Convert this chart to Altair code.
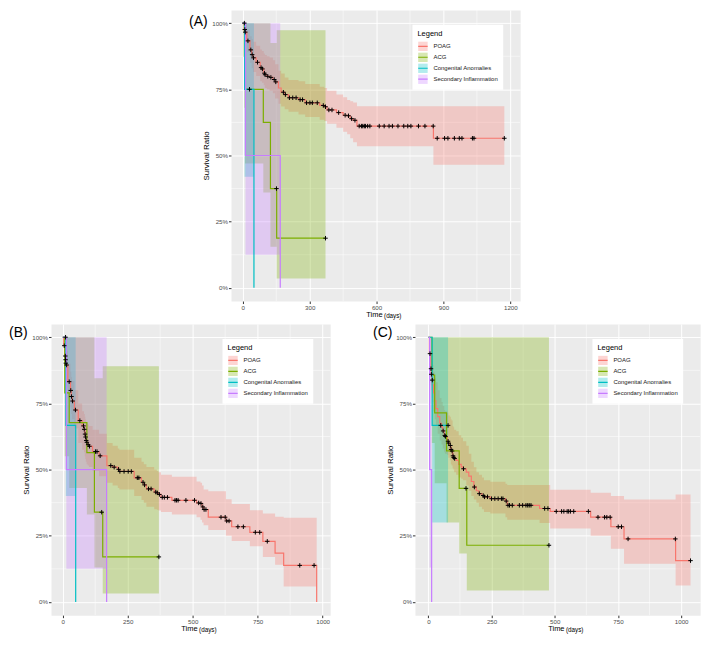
import altair as alt
import pandas as pd

FONT = "Liberation Sans"
GROUPS = ["POAG", "ACG", "Congenital Anomalies", "Secondary Inflammation"]
COLORS = ["#F8766D", "#7CAE00", "#00BFC4", "#C77CFF"]
Y_TICKS = [0, 0.25, 0.5, 0.75, 1.0]
Y_MINOR = [0.125, 0.375, 0.625, 0.875]

# ---------------- Panel A ----------------
A_X_TICKS = [0, 300, 600, 900, 1200]
A_X_MINOR = [150, 450, 750, 1050]

A_POAG_T = [0, 8, 10, 18, 32, 40, 46, 60, 78, 86, 94, 99, 108, 120, 135, 145, 160, 172, 188, 205,
            250, 280, 345, 366, 378, 420, 450, 468, 482, 495, 512, 855, 1173]
A_POAG_S = [1.0, .976, .966, .933, .899, .881, .869, .852, .832, .827, .811, .805, .799, .795, .787, .778,
            .755, .739, .730, .718, .711, .699, .689, .684, .672, .662, .652, .650, .639, .633, .611, .565, .565]
A_POAG_L = [.97, .95, .93, .89, .85, .83, .815, .80, .78, .775, .765, .755, .75, .745, .735, .715, .695,
            .685, .675, .665, .655, .645, .635, .63, .62, .605, .59, .58, .565, .55, .535, .465, .465]
A_POAG_U = [1.0, 1.0, .995, .975, .95, .94, .93, .915, .90, .895, .885, .88, .875, .87, .86, .845, .82,
            .81, .795, .785, .78, .77, .76, .755, .745, .73, .72, .71, .705, .70, .686, .686, .686]
A_POAG_XT = [7, 9, 11, 23, 36, 42, 48, 66, 82, 88, 97, 100, 112, 126, 141, 148, 182, 191, 209, 224,
             239, 257, 268, 286, 301, 312, 334, 361, 371, 386, 400, 430, 459, 474, 488, 503,
             522, 532, 538, 545, 550, 560, 570, 612, 634, 656, 671, 696, 722, 740, 754, 788, 817, 854,
             872, 905, 920, 949, 971, 983, 1030, 1037, 1173]
A_POAG_XS = [1.0, .976, .966, .933, .899, .881, .869, .852, .832, .827, .811, .805, .799, .795, .787, .778,
             .739, .730, .718, .718, .718, .711, .711, .699, .699, .699, .699, .689, .684, .672, .672,
             .662, .652, .650, .639, .633,
             .611, .611, .611, .611, .611, .611, .611, .611, .611, .611, .611, .611, .611, .611, .611,
             .611, .611, .611,
             .565, .565, .565, .565, .565, .565, .565, .565, .565]

A_ACG_T = [0, 7, 10, 92, 124, 152, 371]
A_ACG_S = [1.0, .875, .75, .625, .375, .1875, .1875]
A_ACG_L = [1.0, .68, .47, .36, .155, .035, .035]
A_ACG_U = [1.0, 1.0, 1.0, 1.0, .925, .973, .973]
A_ACG_XT = [30, 151, 371]
A_ACG_XS = [.75, .375, .1875]

A_CA_T = [0, 8, 50]
A_CA_S = [1.0, .75, 0.0]
A_CA_L = [1.0, .42, .42]
A_CA_U = [1.0, 1.0, 1.0]

A_SI_T = [0, 12, 168]
A_SI_S = [1.0, .5, 0.0]
A_SI_L = [1.0, .125, .125]
A_SI_U = [1.0, 1.0, 1.0]

# ---------------- Panel B ----------------
BC_X_TICKS = [0, 250, 500, 750, 1000]
BC_X_MINOR = [125, 375, 625, 875]

B_POAG_T = [0, 4, 8, 10.5, 11.5, 14, 20, 30, 33, 36, 45, 60, 75, 82, 85, 87, 89, 92, 96, 101,
            115, 140, 170, 192, 212, 218, 275, 303, 312, 322, 352, 362, 368, 378, 420, 515, 530, 536,
            542, 560, 628, 650, 720, 770, 817, 850, 977]
B_POAG_S = [1.0, .968, .929, .915, .902, .895, .832, .799, .776, .759, .725, .685, .665, .652, .634,
            .623, .610, .603, .594, .588, .568, .552, .515, .509, .501, .493, .469, .452, .442, .427,
            .415, .412, .406, .395, .384, .374, .372, .359, .349, .320, .306, .284, .263, .229, .184,
            .138, 0.0]
B_POAG_L = [1.0, .93, .88, .865, .85, .84, .77, .735, .71, .69, .655, .60, .575, .565, .55, .54, .53,
            .52, .515, .51, .495, .475, .45, .44, .43, .425, .40, .385, .375, .36, .35, .348, .345,
            .34, .33, .32, .31, .30, .29, .272, .25, .23, .21, .17, .14, .058, .058]
B_POAG_U = [1.0, 1.0, .975, .965, .955, .95, .90, .87, .85, .835, .80, .75, .72, .71, .70, .69, .68,
            .675, .67, .665, .65, .635, .60, .59, .58, .575, .545, .53, .52, .51, .50, .495, .49,
            .48, .473, .455, .45, .44, .425, .418, .388, .37, .346, .334, .322, .318, .318]
B_POAG_XT = [6, 10, 11, 12, 15, 25, 31, 34, 38, 49, 66, 80, 83, 86, 88, 90.5, 93, 98, 103, 126,
             132, 144, 185, 198, 215, 220, 236, 252, 264, 287, 293, 309, 315, 330, 340, 358, 364,
             372, 383, 391, 403, 432, 438, 444, 474, 507, 523, 532, 539, 544, 551, 609, 625, 631,
             640, 674, 695, 741, 758, 787, 912, 967]
B_POAG_XS = [.968, .929, .915, .902, .895, .832, .799, .776, .759, .725, .685, .665, .652, .634, .623,
             .610, .603, .594, .588, .568, .568, .552, .515, .509, .501, .493, .493, .493, .493, .469,
             .469, .452, .442, .427, .427, .415, .412, .406, .395, .395, .395, .384, .384, .384, .384,
             .384, .374, .372, .359, .349, .349, .320, .320, .306, .306, .284, .284, .263, .263, .229,
             .138, .138]

B_ACG_T = [0, 8, 25, 93, 122, 154, 370]
B_ACG_S = [1.0, .79, .677, .564, .339, .17, .17]
B_ACG_L = [1.0, .55, .43, .33, .13, .032, .032]
B_ACG_U = [1.0, 1.0, 1.0, 1.0, .845, .89, .89]
B_ACG_XT = [150, 370]
B_ACG_XS = [.339, .17]

B_CA_T = [0, 12, 50]
B_CA_S = [1.0, .667, 0.0]
B_CA_L = [1.0, .40, .40]
B_CA_U = [1.0, 1.0, 1.0]
B_CA_XT = [11]
B_CA_XS = [1.0]

B_SI_T = [0, 14, 169]
B_SI_S = [1.0, .5, 0.0]
B_SI_L = [1.0, .125, .125]
B_SI_U = [1.0, 1.0, 1.0]

# ---------------- Panel C ----------------
C_POAG_T = [0, 4, 10, 11, 14, 16, 20, 25, 30, 37, 45, 52, 57, 63, 66, 75, 79, 85, 89, 92, 96, 99,
            102, 110, 120, 130, 137, 150, 160, 170, 180, 190, 200, 212, 220, 245, 305, 312, 440, 482,
            642, 722, 774, 978, 1037]
C_POAG_S = [1.0, .938, .881, .860, .838, .82, .79, .76, .73, .70, .675, .66, .646, .629, .625, .607,
            .600, .591, .576, .570, .552, .546, .542, .535, .52, .51, .503, .49, .475, .455, .434, .42,
            .409, .402, .397, .390, .381, .365, .353, .342, .320, .284, .238, .156, .156]
C_POAG_L = [1.0, .88, .82, .80, .77, .755, .72, .69, .665, .635, .61, .595, .58, .565, .56, .555, .545,
            .535, .52, .515, .505, .50, .49, .48, .47, .465, .46, .44, .42, .40, .387, .375, .36, .35,
            .34, .334, .32, .31, .298, .277, .25, .201, .144, .062, .062]
C_POAG_U = [1.0, 1.0, .95, .935, .91, .895, .87, .845, .83, .80, .77, .755, .74, .725, .72, .715, .704,
            .70, .69, .685, .665, .66, .65, .645, .63, .62, .607, .59, .56, .53, .509, .49, .48, .47,
            .46, .454, .446, .442, .442, .424, .412, .40, .387, .406, .406]
C_POAG_XT = [6.5, 10.5, 12, 15.6, 58.5, 65, 67.6, 78, 80.6, 87, 90, 94, 97.5, 100, 104, 139, 182,
             201.6, 217, 222, 234, 250, 263, 276, 289, 295, 308, 315, 321, 332, 360, 373, 386, 393,
             399, 406, 460, 473, 506, 527, 536, 549, 555, 562, 575, 633, 671, 697, 706, 719, 751,
             764, 790, 977, 1037]
C_POAG_XS = [.938, .881, .860, .838, .646, .629, .625, .607, .600, .591, .576, .570, .552, .546, .542,
             .503, .434, .409, .402, .397, .397, .390, .390, .390, .390, .390, .381, .365, .365, .365,
             .365, .365, .365, .365, .365, .365, .353, .353, .342, .342, .342, .342, .342, .342, .342,
             .342, .320, .320, .320, .320, .284, .284, .238, .238, .156]

C_ACG_T = [0, 14, 25, 72, 122, 152, 477]
C_ACG_S = [1.0, .857, .714, .571, .429, .214, .214]
C_ACG_L = [1.0, .60, .448, .30, .183, .043, .043]
C_ACG_U = [1.0, 1.0, 1.0, 1.0, 1.0, 1.0, 1.0]
C_ACG_XT = [149, 477]
C_ACG_XS = [.429, .214]

C_CA_T = [0, 15, 78]
C_CA_S = [1.0, .667, .667]
C_CA_L = [1.0, .30, .30]
C_CA_U = [1.0, 1.0, 1.0]
C_CA_XT = [49, 78]
C_CA_XS = [.667, .667]

C_SI_T = [0, 5, 13]
C_SI_S = [1.0, .5, 0.0]
C_SI_L = [1.0, .13, .13]
C_SI_U = [1.0, 1.0, 1.0]

GROUPS_LINE = [g + " " for g in GROUPS]


def build(spec):
    rows, cens = [], []
    for g, T, S, L, U, XT, XS in spec:
        for t, s, lo, hi in zip(T, S, L, U):
            rows.append({"t": t, "s": s, "lo": lo, "hi": hi, "g": g, "g2": g + " "})
        for t, s in zip(XT, XS):
            cens.append({"t": t, "s": s})
    return pd.DataFrame(rows), pd.DataFrame(cens)


def panel(tag, spec, xdom, xticks, xminor, W, H, tag_y):
    df, cdf = build(spec)
    xs = alt.Scale(domain=xdom, nice=False, zero=False)
    ys = alt.Scale(domain=[-0.05, 1.05], nice=False, zero=False)
    xax = alt.Axis(values=xticks, format="d", title=None, labelFlush=False)
    yax = alt.Axis(values=Y_TICKS, format=".0%", title="Survival Ratio", labelFlush=False)
    X = alt.X("t:Q", scale=xs, axis=xax)

    def Y(f):
        return alt.Y(f, type="quantitative", scale=ys, axis=yax)

    lx = W - 92 - 16
    ly = 15
    common = dict(orient="none", legendX=lx, legendY=ly, padding=5, symbolSize=90,
                  symbolStrokeWidth=1.2, labelFontSize=6, titleFontSize=7.5,
                  titleFontWeight="normal", rowPadding=1, titlePadding=4, labelOffset=5,
                  clipHeight=10)
    fill_leg = alt.Legend(title="Legend", fillColor="white", symbolType="square",
                          symbolOpacity=0.3, symbolStrokeColor="transparent",
                          labelColor="#1A1A1A", titleColor="black", zindex=1, **common)
    stroke_leg = alt.Legend(title="\u00a0", symbolType="stroke", symbolFillColor="transparent",
                            labelExpr="''", titleColor="black", zindex=2, **common)

    minor_x = alt.Chart(pd.DataFrame({"t": xminor})).mark_rule(
        color="white", strokeWidth=0.5).encode(x=X)
    minor_y = alt.Chart(pd.DataFrame({"s": Y_MINOR})).mark_rule(
        color="white", strokeWidth=0.5).encode(y=Y("s"))
    band = alt.Chart(df).mark_area(interpolate="step-after", opacity=0.3).encode(
        x=X, y=Y("lo"), y2="hi:Q",
        fill=alt.Fill("g:N", scale=alt.Scale(domain=GROUPS, range=COLORS), legend=fill_leg,
                      sort=GROUPS))
    line = alt.Chart(df).mark_line(interpolate="step-after", strokeWidth=1.2).encode(
        x=X, y=Y("s"),
        stroke=alt.Stroke("g2:N", scale=alt.Scale(domain=GROUPS_LINE, range=COLORS),
                          legend=stroke_leg, sort=GROUPS_LINE))
    cens = alt.Chart(cdf).mark_point(shape="M-1,0H1M0,-1V1", size=20, filled=False,
                                     color="black", strokeWidth=1, opacity=1).encode(
        x=X, y=Y("s"))
    one = pd.DataFrame({"k": [0]})
    lab = alt.Chart(one).mark_text(text=tag, align="left", baseline="top", fontSize=14,
                                   font=FONT, color="black").encode(
        x=alt.value(-42), y=alt.value(tag_y))
    t1 = alt.Chart(one).mark_text(text="Time", align="right", baseline="middle", fontSize=7.5,
                                  font=FONT, color="black").encode(
        x=alt.value(W / 2 + 7), y=alt.value(H + 14))
    t2 = alt.Chart(one).mark_text(text="(days)", align="left", baseline="middle", fontSize=6.3,
                                  font=FONT, color="black").encode(
        x=alt.value(W / 2 + 8.5), y=alt.value(H + 14.5))
    return alt.layer(minor_x, minor_y, band, line, cens, lab, t1, t2).properties(width=W, height=H)


H = 292
A = panel("(A)", [
    ("POAG", A_POAG_T, A_POAG_S, A_POAG_L, A_POAG_U, A_POAG_XT, A_POAG_XS),
    ("ACG", A_ACG_T, A_ACG_S, A_ACG_L, A_ACG_U, A_ACG_XT, A_ACG_XS),
    ("Congenital Anomalies", A_CA_T, A_CA_S, A_CA_L, A_CA_U, [], []),
    ("Secondary Inflammation", A_SI_T, A_SI_S, A_SI_L, A_SI_U, [], []),
], [-53, 1244], A_X_TICKS, A_X_MINOR, 290, H, 5)

B = panel("(B)", [
    ("POAG", B_POAG_T, B_POAG_S, B_POAG_L, B_POAG_U, B_POAG_XT, B_POAG_XS),
    ("ACG", B_ACG_T, B_ACG_S, B_ACG_L, B_ACG_U, B_ACG_XT, B_ACG_XS),
    ("Congenital Anomalies", B_CA_T, B_CA_S, B_CA_L, B_CA_U, B_CA_XT, B_CA_XS),
    ("Secondary Inflammation", B_SI_T, B_SI_S, B_SI_L, B_SI_U, [], []),
], [-45, 1029], BC_X_TICKS, BC_X_MINOR, 280, H, 2)

C = panel("(C)", [
    ("POAG", C_POAG_T, C_POAG_S, C_POAG_L, C_POAG_U, C_POAG_XT, C_POAG_XS),
    ("ACG", C_ACG_T, C_ACG_S, C_ACG_L, C_ACG_U, C_ACG_XT, C_ACG_XS),
    ("Congenital Anomalies", C_CA_T, C_CA_S, C_CA_L, C_CA_U, C_CA_XT, C_CA_XS),
    ("Secondary Inflammation", C_SI_T, C_SI_S, C_SI_L, C_SI_U, [], []),
], [-53, 1075], BC_X_TICKS, BC_X_MINOR, 286, H, 2)

bottom = alt.hconcat(B, C, spacing=41).resolve_scale(fill="independent", stroke="independent")
chart = alt.vconcat(A, bottom, spacing=3, center=True).resolve_scale(
    fill="independent", stroke="independent"
).properties(padding=0).configure_view(
    fill="#EBEBEB", stroke="transparent"
).configure_axis(
    labelFont=FONT, titleFont=FONT, labelFontSize=6.2, labelColor="#4D4D4D",
    titleFontSize=8, titleColor="black", titleFontWeight="normal",
    tickColor="#333333", tickSize=2.5, domain=False, gridColor="white", gridWidth=1,
    labelPadding=1
).configure_axisY(titlePadding=1).configure_legend(labelFont=FONT, titleFont=FONT)

chart.save("out.html", embed_options={"renderer": "svg", "actions": False})
